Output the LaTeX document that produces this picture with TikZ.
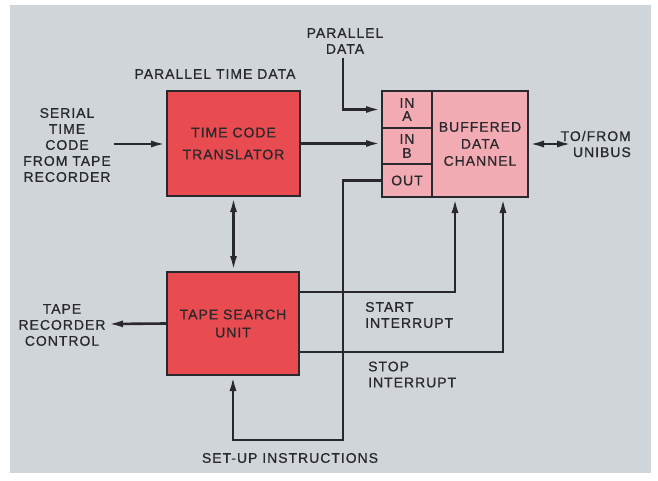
\documentclass[tikz,border=0pt]{standalone}
\usepackage{fontspec}
\setmainfont{Liberation Sans}[LetterSpace=7, FakeBold=0.7]
\usetikzlibrary{arrows.meta}
\definecolor{panel}{RGB}{208,213,218}
\definecolor{redbox}{RGB}{233,76,80}
\definecolor{pinkbox}{RGB}{242,171,178}
\definecolor{ink}{RGB}{40,40,45}
\begin{document}
\begin{tikzpicture}[x=1pt,y=-1pt,
  lbl/.style={font=\fontsize{14}{16}\selectfont, text=ink, align=center, inner sep=0pt},
  wire/.style={line width=2.6pt, draw=ink},
  tip/.tip={Latex[length=15pt,width=7pt]},
  arr/.style={wire, -tip},
  darr/.style={wire, tip-tip},
  blk/.style={draw=ink, line width=2pt, inner sep=0pt, font=\fontsize{14}{16}\selectfont, text=ink, align=center}]
\useasboundingbox (0,0) rectangle (658,481);
\fill[white] (0,0) rectangle (658,481);
\fill[panel] (10,5) rectangle (651,473);

% blocks
\node[blk, fill=redbox, minimum width=133pt, minimum height=105pt] (tct) at (233.5,143.5) {TIME CODE\\[6pt]TRANSLATOR};
\node[blk, fill=redbox, minimum width=132pt, minimum height=103pt] (tsu) at (233,323.5) {TAPE SEARCH\\[2pt]UNIT};
\node[blk, fill=pinkbox, minimum width=50pt, minimum height=37pt] (ina) at (407,109.5) {IN\\[-3pt]A};
\node[blk, fill=pinkbox, minimum width=50pt, minimum height=36pt] (inb) at (407,146) {IN\\[-2pt]B};
\node[blk, fill=pinkbox, minimum width=50pt, minimum height=33pt] (out) at (407,180.5) {OUT};
\node[blk, fill=pinkbox, minimum width=96pt, minimum height=106pt] (bdc) at (480,144) {BUFFERED\\[1pt]DATA\\[1pt]CHANNEL};

% labels
\node[lbl] (ptd) at (215,74) {PARALLEL TIME DATA};
\node[lbl] (pd) at (345,41) {PARALLEL\\DATA};
\node[lbl] (stc) at (67,145) {SERIAL\\TIME\\CODE\\FROM TAPE\\RECORDER};
\node[lbl] (trc) at (62,325) {TAPE\\RECORDER\\CONTROL};
\node[lbl, align=left, anchor=west] (sti) at (365,315) {START\\INTERRUPT};
\node[lbl, align=left, anchor=west] (spi) at (368,374.5) {STOP\\INTERRUPT};
\node[lbl] (sui) at (290,458) {SET-UP INSTRUCTIONS};
\node[lbl, align=right, anchor=east] (uni) at (631,144) {TO/FROM\\UNIBUS};

% helper coordinates
\coordinate (s0) at (114,144);
\coordinate (t0) at (108,324);
\coordinate (p0) at (343,58);
\coordinate (c1) at (343,440);
\coordinate (u0) at (572,144);
\coordinate (y292) at (0,292);
\coordinate (y352) at (0,352);
\coordinate (x455) at (455,0);
\coordinate (x503) at (503,0);

% connectors
\draw[arr] (s0) -- (s0 -| tct.west);
\draw[arr] (tct.east) -- (tct.east -| inb.west);
\draw[arr] (p0) |- (ina.west);
\draw[darr] (tct.south) -- (tct.south |- tsu.north);
\draw[arr] (tsu.west) -- (t0);
\draw[arr] (out.west) -| (c1) -| (tsu.south);
\draw[arr] (tsu.east |- y292) -| (bdc.south -| x455);
\draw[arr] (tsu.east |- y352) -| (bdc.south -| x503);
\draw[darr] (bdc.east) -- (u0);
\end{tikzpicture}
\end{document}
